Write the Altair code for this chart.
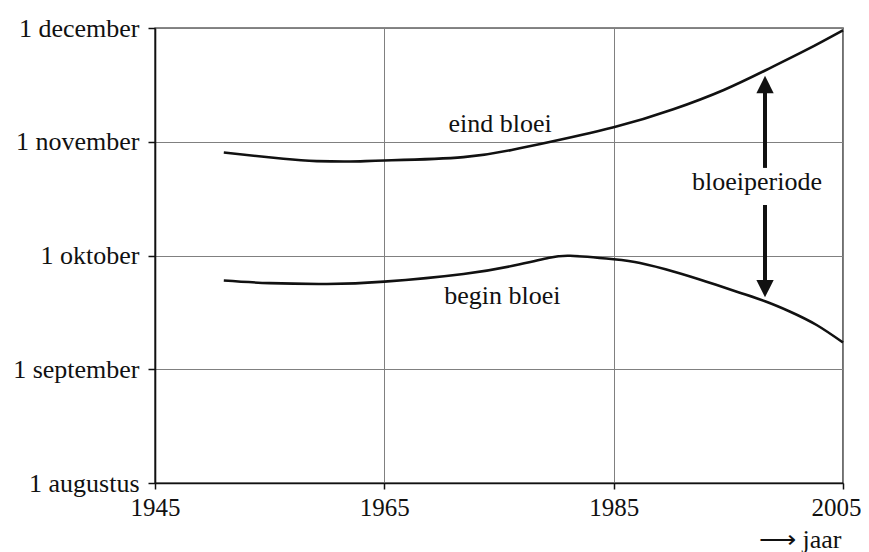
import altair as alt
import pandas as pd

# ---- data ----
years_end = [1951, 1956.2, 1959.1, 1962, 1965, 1971.9, 1976.2, 1978.6, 1985, 1990.2, 1994.6, 1998.3, 2001.8, 2005]
eind = [2.905, 2.85, 2.83, 2.826, 2.835, 2.865, 2.93, 2.98, 3.127, 3.285, 3.455, 3.631, 3.807, 3.98]

years_begin = [1951, 1955, 1960, 1965, 1971.9, 1976.2, 1979.2, 1981.2, 1985, 1987.3, 1990.2, 1993.1, 1996,
               1998.2, 2000.4, 2002.7, 2005]
begin = [1.78, 1.757, 1.75, 1.77, 1.837, 1.91, 1.975, 1.998, 1.967, 1.934, 1.86, 1.77, 1.673,
         1.598, 1.506, 1.389, 1.235]

month_labels = ["1 augustus", "1 september", "1 oktober", "1 november", "1 december"]
month_values = [0, 1, 2, 3, 4]
year_ticks = [1945, 1965, 1985, 2005]

label_texts = ["eind bloei", "begin bloei", "bloeiperiode"]
label_years = [1975.1, 1975.3, 1997.5]
label_values = [3.086, 1.574, 2.58]

arrow_year = 1998.2
arrow_tips = [3.503, 1.708]          # centres of the two arrow heads
shaft_from = [3.43, 2.444]
shaft_to = [2.77, 1.776]

FONT = "Liberation Serif"
FS = 26

curves = pd.concat([
    pd.DataFrame({"jaar": years_end, "v": eind, "s": "eind"}),
    pd.DataFrame({"jaar": years_begin, "v": begin, "s": "begin"}),
])

label_expr = "[" + ",".join(f"'{m}'" for m in month_labels) + "][datum.value]"

xscale = alt.Scale(domain=[1945, 2005], nice=False, zero=False)
yscale = alt.Scale(domain=[0, 4], nice=False, zero=False)

xaxis = alt.Axis(values=year_ticks, format="d", grid=True, gridColor="#808080", gridWidth=1,
                 domainColor="#111", domainWidth=1.6, tickColor="#111", tickWidth=1.5, tickSize=6,
                 labelFont=FONT, labelFontSize=25, labelColor="#111", labelPadding=6,
                 labelOffset={"condition": {"test": "datum.value == 2005", "value": -7}, "value": 0},
                 title="⟶ jaar", titleFont=FONT, titleFontSize=FS, titleFontWeight="normal",
                 titleColor="#111", titleAnchor="end", titleAlign="right", titleBaseline="alphabetic",
                 titleX=686, titleY=64, labelFlush=False)
yaxis = alt.Axis(values=month_values, labelExpr=label_expr, grid=True, gridColor="#808080", gridWidth=1,
                 domainColor="#111", domainWidth=1.6, tickColor="#111", tickWidth=1.5, tickSize=7,
                 labelFont=FONT, labelFontSize=FS, labelColor="#111", labelPadding=9, title=None)

base = alt.Chart(curves)

lines = base.mark_line(color="#111", strokeWidth=2.6, interpolate="natural").encode(
    x=alt.X("jaar:Q", scale=xscale, axis=xaxis),
    y=alt.Y("v:Q", scale=yscale, axis=yaxis),
    detail="s:N",
)

labels_df = pd.DataFrame({"t": label_texts, "jaar": label_years, "v": label_values})
labels = alt.Chart(labels_df).mark_text(font=FONT, fontSize=FS, color="#111", align="center",
                                        baseline="alphabetic").encode(
    x=alt.X("jaar:Q", scale=xscale), y=alt.Y("v:Q", scale=yscale), text="t:N")

shaft_df = pd.DataFrame({"jaar": [arrow_year, arrow_year], "a": shaft_from, "b": shaft_to})
shafts = alt.Chart(shaft_df).mark_rule(color="#111", strokeWidth=4, strokeCap="butt").encode(
    x=alt.X("jaar:Q", scale=xscale), y=alt.Y("a:Q", scale=yscale), y2="b:Q")

heads_up = alt.Chart(pd.DataFrame({"jaar": [arrow_year], "v": [arrow_tips[0]]})).mark_point(
    shape="M0,-1L-1,1L1,1Z", size=300, filled=True, color="#111", opacity=1, strokeWidth=0).encode(
    x=alt.X("jaar:Q", scale=xscale), y=alt.Y("v:Q", scale=yscale))
heads_down = alt.Chart(pd.DataFrame({"jaar": [arrow_year], "v": [arrow_tips[1]]})).mark_point(
    shape="M0,1L-1,-1L1,-1Z", size=300, filled=True, color="#111", opacity=1, strokeWidth=0).encode(
    x=alt.X("jaar:Q", scale=xscale), y=alt.Y("v:Q", scale=yscale))

chart = alt.layer(lines, labels, shafts, heads_up, heads_down).properties(
    width=688, height=455,
    autosize=alt.AutoSizeParams(type="none"),
    padding={"left": 147, "top": 20, "right": 18, "bottom": 70},
    background="white",
).configure_view(stroke="#111", strokeWidth=1.4)

chart.save("out.html", embed_options={"renderer": "svg", "actions": False})
